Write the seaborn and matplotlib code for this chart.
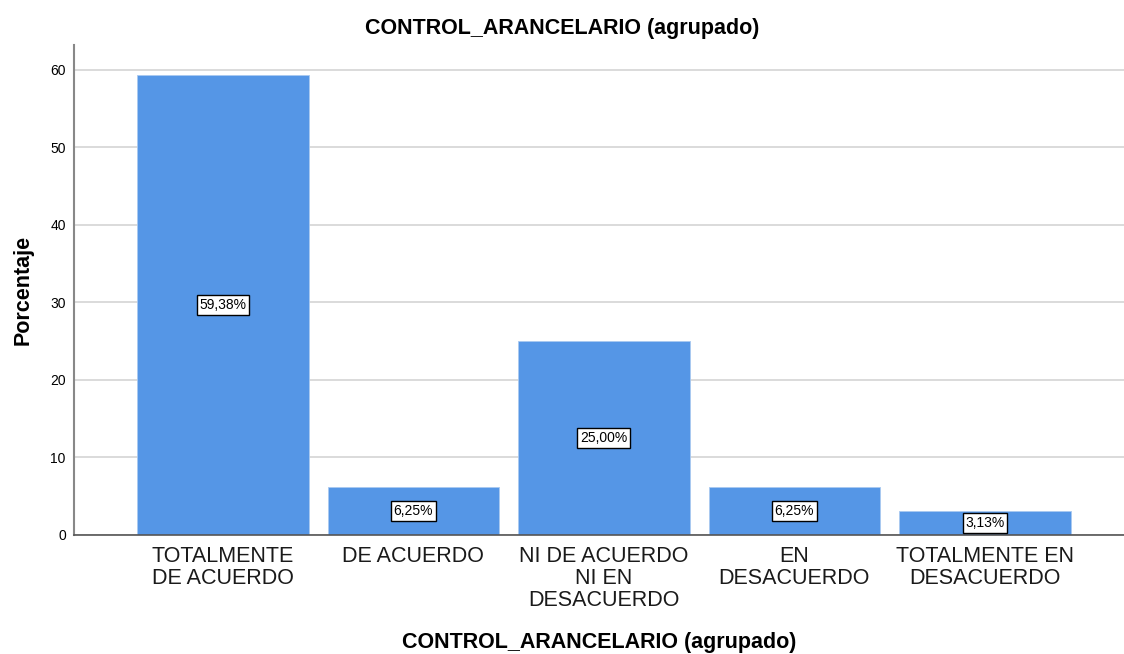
import matplotlib
matplotlib.use("Agg")
import matplotlib.pyplot as plt
import seaborn as sns
import pandas as pd

categories = ["TOTALMENTE\nDE ACUERDO", "DE ACUERDO", "NI DE ACUERDO\nNI EN\nDESACUERDO",
              "EN\nDESACUERDO", "TOTALMENTE EN\nDESACUERDO"]
percentages = [59.38, 6.25, 25.00, 6.25, 3.13]
value_labels = ["59,38%", "6,25%", "25,00%", "6,25%", "3,13%"]
y_ticks = [0, 10, 20, 30, 40, 50, 60]

sns.set_style("white")
plt.rcParams['font.family'] = ['Liberation Sans', 'DejaVu Sans']

df = pd.DataFrame({"cat": categories, "pct": percentages})

fig = plt.figure(figsize=(11.24, 6.54), dpi=100)
ax = fig.add_axes([0.066, 0.182, 0.934, 0.749])

for y in y_ticks:
    ax.axhline(y, color="#d4d4d4", linewidth=1.2, zorder=0)

sns.barplot(data=df, x="cat", y="pct", color="#5596e6", saturation=1, width=0.9,
            edgecolor="#a9c9f0", linewidth=0.6, ax=ax, zorder=2)

for i, (v, lab) in enumerate(zip(percentages, value_labels)):
    ax.text(i, v / 2, lab, ha="center", va="center", fontsize=10, color="black", zorder=5,
            bbox=dict(boxstyle="square,pad=0.2", facecolor="white", edgecolor="black", linewidth=1))

ax.set_xlim(-0.78, 4.73)
ax.set_ylim(0, 63.2)
ax.set_yticks(y_ticks)
ax.tick_params(axis="y", labelsize=10, length=0, pad=6, colors="black")
ax.tick_params(axis="x", labelsize=15.5, length=0, pad=8, colors="#1a1a1a")
for t in ax.get_xticklabels():
    t.set_linespacing(1.07)

for s in ["top", "right"]:
    ax.spines[s].set_visible(False)
ax.spines["left"].set_color("#888888")
ax.spines["left"].set_linewidth(1.5)
ax.spines["bottom"].set_color("#555555")
ax.spines["bottom"].set_linewidth(1.2)

# title is centred on the figure, not on the axes
ax.set_title("CONTROL_ARANCELARIO (agrupado)", fontsize=15.5, fontweight="bold", pad=8,
             color="black", x=0.465)
ax.set_xlabel("CONTROL_ARANCELARIO (agrupado)", fontsize=15.5, fontweight="bold", labelpad=15, color="black")
ax.set_ylabel("Porcentaje", fontsize=15.5, fontweight="bold", labelpad=12, color="black")

fig.savefig("out.png", dpi=100)
